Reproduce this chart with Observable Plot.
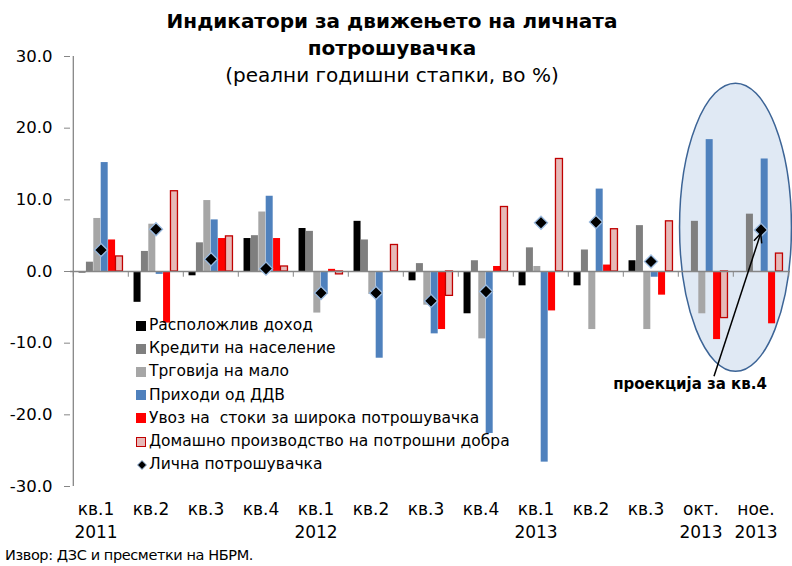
<!DOCTYPE html>
<html>
<head>
<meta charset="utf-8">
<script src="https://cdn.jsdelivr.net/npm/d3@7"></script>
<script src="https://cdn.jsdelivr.net/npm/@observablehq/plot@0.6"></script>
<style>
  body { margin: 0; background: #fff; }
  #wrap { position: relative; width: 792px; height: 566px; font-family: "DejaVu Sans", sans-serif; color: #000; overflow: hidden; }
  #wrap svg { position: absolute; left: 0; top: 0; }
  #title { position: absolute; left: 0; top: 8px; width: 784px; text-align: center; font-size: 20px; line-height: 27px; }
  #title b { font-weight: bold; }
  #legend { position: absolute; left: 136px; top: 314px; font-size: 15.5px; line-height: 23.2px; }
  .row { display: flex; align-items: center; height: 23.2px; white-space: pre; }
  .sw { width: 10px; height: 10px; margin-right: 3px; box-sizing: border-box; }
  #source { position: absolute; left: 5px; top: 547px; font-size: 14.5px; letter-spacing: -0.4px; }
</style>
</head>
<body>
<div id="wrap">
  <div id="title"><b>Индикатори за движењето на личната<br>потрошувачка</b><br>(реални годишни стапки, во %)</div>
</div>
<script>
// ---- data ----
const periods = ["2011-Q1","2011-Q2","2011-Q3","2011-Q4","2012-Q1","2012-Q2","2012-Q3","2012-Q4","2013-Q1","2013-Q2","2013-Q3","2013-10","2013-11"];
const tickLabels = ["кв.1\n2011","кв.2","кв.3","кв.4","кв.1\n2012","кв.2","кв.3","кв.4","кв.1\n2013","кв.2","кв.3","окт.\n2013","ное.\n2013"];
const seriesNames = ["Расположлив доход","Кредити на население","Трговија на мало","Приходи од ДДВ","Увоз на  стоки за широка потрошувачка","Домашно производство на потрошни добра"];
const lineName = "Лична потрошувачка";
const income   = [-0.2, -4.3, -0.6,  4.6,  6.0,  7.0, -1.3, -5.9, -2.0, -2.0,  1.5, null, null];
const credit   = [ 1.3,  2.8,  4.0,  5.0,  5.6,  4.4,  1.1,  1.5,  3.3,  3.0,  6.4,  7.0,  8.0];
const retail   = [ 7.4,  6.6,  9.9,  8.3, -5.8, -3.2, -4.7, -9.4,  0.7, -8.1, -8.1, -5.9, null];
const vat      = [15.2, -0.4,  7.2, 10.5, -3.2,-12.1, -8.7,-22.6,-26.6, 11.5, -0.8, 18.4, 15.7];
const imports  = [ 4.4, -7.2,  4.6,  4.6,  0.3,  0.0, -8.1,  0.7, -5.5,  0.9, -3.3, -9.5, -7.3];
const domestic = [ 2.1, 11.2,  4.9,  0.7, -0.4,  3.7, -3.4,  9.0, 15.7,  5.9,  7.0, -6.5,  2.5];
const consumption = [3.0, 5.9, 1.7, 0.4, -3.0, -3.0, -4.1, -2.8, 6.8, 6.9, 1.4, null, 5.8];
const yTicks = [-30, -20, -10, 0, 10, 20, 30];
const annotationText = "проекција за кв.4";
const annotationY = -15.7;
const ellipseTop = 26.2, ellipseBottom = -14.0;
const arrowStartY = -14.7;

// ---- styles ----
const fills = ["#000000", "#7f7f7f", "#a6a6a6", "#4f81bd", "#ff0000", "#e6b9b8"];
const strokes = [null, null, null, null, null, "#c00000"];

const W = 792, H = 566, mL = 70, mR = 2, mT = 56, mB = 80;
const step = (W - mL - mR) / periods.length;
const pad = step * 0.1, bw = step * 0.8 / 6;
const seriesVals = [income, credit, retail, vat, imports, domestic];
const labelOf = new Map(periods.map((p, i) => [p, tickLabels[i]]));

function ellipseMark(index, scales) {
  const {x, y} = scales;
  const cx = x(periods[12]) + step * 0.045;
  const cy = (y(ellipseTop) + y(ellipseBottom)) / 2;
  const ry = (y(ellipseBottom) - y(ellipseTop)) / 2;
  const g = d3.create("svg:g");
  g.append("ellipse").attr("cx", cx).attr("cy", cy).attr("rx", step * 1.01).attr("ry", ry)
    .attr("fill", "#e0e9f4").attr("stroke", "#3c6496").attr("stroke-width", 1.5);
  return g.node();
}

function arrowMark(index, scales) {
  const {x, y} = scales;
  const x1 = x(periods[11]) + step * 0.65, y1 = y(arrowStartY);
  const x2 = x(periods[12]) + step * 0.5, y2 = y(consumption[12]) + 4;
  const a = Math.atan2(y1 - y2, x1 - x2);
  const L = 10, s = 0.42;
  const g = d3.create("svg:g").attr("fill", "none").attr("stroke", "#000").attr("stroke-width", 1.5);
  g.append("line").attr("x1", x1).attr("y1", y1).attr("x2", x2).attr("y2", y2);
  g.append("path").attr("d",
    `M${x2 + L * Math.cos(a - s)},${y2 + L * Math.sin(a - s)}L${x2},${y2}L${x2 + L * Math.cos(a + s)},${y2 + L * Math.sin(a + s)}`);
  return g.node();
}

const barMarks = seriesVals.map((vals, i) =>
  Plot.barY(
    periods.map((p, j) => ({period: p, value: vals[j]})).filter(d => d.value != null),
    {
      x: "period", y: "value",
      fill: fills[i],
      stroke: strokes[i] || undefined,
      strokeWidth: strokes[i] ? 1.3 : undefined,
      insetLeft: pad + i * bw,
      insetRight: step - pad - (i + 1) * bw
    }
  )
);

const lineData = periods.map((p, j) => ({period: p, value: consumption[j]})).filter(d => d.value != null);

const chart = Plot.plot({
  width: W, height: H,
  marginLeft: mL, marginRight: mR, marginTop: mT, marginBottom: mB,
  style: {fontFamily: "DejaVu Sans, sans-serif", background: "transparent", color: "#000"},
  x: {type: "band", domain: periods, padding: 0, label: null},
  y: {domain: [-30, 30], label: null},
  marks: [
    ellipseMark,
    ...barMarks,
    Plot.ruleY([0], {stroke: "#868686", strokeWidth: 1.3}),
    Plot.ruleX(periods, {x: d => d, y1: 0, y2: -0.8, dx: -step / 2, stroke: "#868686"}),
    Plot.ruleX([periods[periods.length - 1]], {x: d => d, y1: 0, y2: -0.8, dx: step / 2, stroke: "#868686"}),
    Plot.ruleX([periods[0]], {x: d => d, y1: -30, y2: 30, dx: -step / 2, stroke: "#868686", strokeWidth: 1.3}),
    Plot.axisY({ticks: yTicks, tickSize: 6, tickPadding: 12, tickFormat: d => d.toFixed(1), fontSize: 16.5, stroke: "#868686", fill: "#000", label: null}),
    Plot.axisX({tickSize: 0, tickPadding: 12, tickFormat: d => labelOf.get(d), fontSize: 17, lineHeight: 1.35, dx: -5, fill: "#000", label: null}),
    Plot.dot(lineData, {x: "period", y: "value", symbol: "diamond2", r: 5.9, fill: "#000", stroke: "#9bbbe0", strokeWidth: 1.3}),
    arrowMark,
    Plot.text([{period: periods[11], value: annotationY, t: annotationText}], {x: "period", y: "value", text: "t", dx: -16, fontSize: 15, fontWeight: "bold", fill: "#000"})
  ]
});

const wrap = document.getElementById("wrap");
wrap.insertBefore(chart, wrap.firstChild);

// legend
const legend = document.createElement("div");
legend.id = "legend";
seriesNames.forEach((name, i) => {
  const row = document.createElement("div");
  row.className = "row";
  const sw = document.createElement("span");
  sw.className = "sw";
  sw.style.background = fills[i];
  if (strokes[i]) sw.style.border = `1.5px solid ${strokes[i]}`;
  row.appendChild(sw);
  row.appendChild(document.createTextNode(name));
  legend.appendChild(row);
});
const lrow = document.createElement("div");
lrow.className = "row";
const dsw = document.createElementNS("http://www.w3.org/2000/svg", "svg");
dsw.setAttribute("width", "12"); dsw.setAttribute("height", "12");
dsw.style.marginRight = "1px"; dsw.style.position = "static";
dsw.innerHTML = '<path d="M6,1.5L10.5,6L6,10.5L1.5,6Z" fill="#000" stroke="#9bbbe0" stroke-width="1"/>';
lrow.appendChild(dsw);
lrow.appendChild(document.createTextNode(lineName));
legend.appendChild(lrow);
wrap.appendChild(legend);

const src = document.createElement("div");
src.id = "source";
src.textContent = "Извор: ДЗС и пресметки на НБРМ.";
wrap.appendChild(src);
</script>
</body>
</html>
